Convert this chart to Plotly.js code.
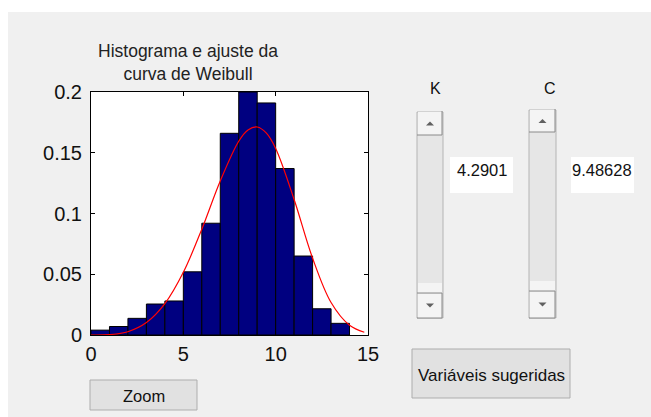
<!DOCTYPE html>
<html>
<head>
<meta charset="utf-8">
<script src="https://cdn.plot.ly/plotly-3.0.1.min.js"></script>
<style>
  html, body { margin: 0; padding: 0; background: #ffffff; width: 651px; height: 417px; overflow: hidden; }
  #chart { position: absolute; left: 8px; top: 12px; width: 643px; height: 405px; }
</style>
</head>
<body>
<div id="chart"></div>
<script>
// ---- data ----
var binCenters = [0.5, 1.5, 2.5, 3.5, 4.5, 5.5, 6.5, 7.5, 8.5, 9.5, 10.5, 11.5, 12.5, 13.5];
var binFreq    = [0.004, 0.007, 0.0137, 0.0255, 0.028, 0.052, 0.092, 0.166, 0.200, 0.191, 0.137, 0.065, 0.0216, 0.0096];
var curveX     = [0, 1, 2, 3, 4, 5, 6, 7, 8, 8.5, 9, 9.5, 10, 11, 12, 13, 14, 14.8];
var curveY     = [0, 0.0003, 0.0027, 0.0102, 0.0258, 0.0516, 0.0871, 0.1268, 0.1595, 0.1688, 0.1712, 0.1661, 0.1535, 0.1115, 0.0632, 0.0267, 0.0080, 0.0023];
var xTickVals  = [0, 5, 10, 15];
var xTickText  = ["0", "5", "10", "15"];
var yTickVals  = [0, 0.05, 0.1, 0.15, 0.2];
var yTickText  = ["0", "0.05", "0.1", "0.15", "0.2"];
var titleText  = "Histograma e ajuste da<br>curva de Weibull";
var kLabel = "K", cLabel = "C";
var kValue = "4.2901", cValue = "9.48628";
var zoomLabel = "Zoom", suggestLabel = "Variáveis sugeridas";

// ---- page pixel -> paper coordinate helpers (plot area: x 91..368, y 92..335 on the page) ----
var PL = 91, PR = 368, PT = 92, PB = 335;
function X(px) { return (px - PL) / (PR - PL); }
function Y(py) { return (PB - py) / (PB - PT); }

var shapes = [];
var annotations = [];
function rect(x0, y0, x1, y1, fill, line) {
  shapes.push({type: 'rect', xref: 'paper', yref: 'paper', x0: X(x0), x1: X(x1), y0: Y(y1), y1: Y(y0),
    fillcolor: fill, line: line ? {color: line, width: 1} : {width: 0}, layer: 'above'});
}
function seg(pts, color) {
  var d = pts.map(function (p, i) { return (i ? 'L' : 'M') + X(p[0]) + ',' + Y(p[1]); }).join(' ');
  shapes.push({type: 'path', xref: 'paper', yref: 'paper', path: d, line: {color: color, width: 1}, layer: 'above'});
}
function tri(cx, cy, up) {
  var w = 4, h = 4;
  var pts = up ? [[cx - w, cy + h / 2], [cx + w, cy + h / 2], [cx, cy - h / 2]]
               : [[cx - w, cy - h / 2], [cx + w, cy - h / 2], [cx, cy + h / 2]];
  var d = pts.map(function (p, i) { return (i ? 'L' : 'M') + X(p[0]) + ',' + Y(p[1]); }).join(' ') + ' Z';
  shapes.push({type: 'path', xref: 'paper', yref: 'paper', path: d, fillcolor: '#606060', line: {width: 0}, layer: 'above'});
}
function scrollbar(x0, x1, top, upBot, thumbTop, thumbBot, bottom) {
  rect(x0, top, x1, bottom, '#e6e6e6', '#b4b4b4');
  rect(x0 + 1, top, x1 - 1, upBot, '#f4f4f4');
  seg([[x1 - 1, top - 1], [x1 - 1, upBot], [x0, upBot]], '#8a8a8a');
  rect(x0 + 1, thumbTop, x1 - 1, thumbBot, '#f4f4f4');
  seg([[x0, thumbBot], [x1 - 1, thumbBot]], '#8a8a8a');
  rect(x0 + 1, thumbBot + 1, x1 - 1, bottom, '#f4f4f4');
  seg([[x1 - 1, thumbBot], [x1 - 1, bottom], [x0, bottom]], '#8a8a8a');
  var cx = (x0 + x1) / 2;
  tri(cx, (top + upBot) / 2, true);
  tri(cx, (thumbBot + bottom) / 2, false);
}
function text(t, px, py, size, anchor) {
  annotations.push({text: t, xref: 'paper', yref: 'paper', x: X(px), y: Y(py), showarrow: false,
    xanchor: anchor || 'center', yanchor: 'middle', font: {family: 'Arial, Liberation Sans, sans-serif', size: size, color: '#111111'}});
}

// scrollbars
scrollbar(417, 443, 112, 135, 283, 293, 318);
scrollbar(529, 556, 110, 132, 281, 291, 318);
// labels
text(kLabel, 435, 89, 16);
text(cLabel, 549.5, 89, 16);
// edit boxes
rect(450, 157, 513, 193, '#ffffff');
rect(571, 157, 634, 193, '#ffffff');
text(kValue, 509, 170, 16.5, 'right');
text(cValue, 634, 170, 16.5, 'right');
// buttons
rect(90, 380, 197, 410, '#e1e1e1', '#adadad');
text(zoomLabel, 143.5, 396, 16.5);
rect(412, 349, 570, 398, '#e1e1e1', '#adadad');
text(suggestLabel, 491, 375, 17);

var traces = [
  {type: 'bar', x: binCenters, y: binFreq, width: 1,
   marker: {color: '#000080', line: {color: '#000000', width: 1}}, hoverinfo: 'x+y'},
  {type: 'scatter', mode: 'lines', x: curveX, y: curveY,
   line: {color: '#ff0000', width: 1.2, shape: 'spline'}}
];

var axisCommon = {
  showline: true, mirror: 'ticks', linecolor: '#000000', linewidth: 1,
  ticks: 'inside', ticklen: 4, tickcolor: '#000000', tickwidth: 1,
  showgrid: false, zeroline: false,
  tickfont: {family: 'Arial, Liberation Sans, sans-serif', size: 20, color: '#111111'}
};

var layout = Object.assign({
  width: 643, height: 405,
  paper_bgcolor: '#f0f0f0', plot_bgcolor: '#ffffff',
  margin: {l: PL - 8, r: 643 - (PR - 8), t: PT - 12, b: 405 - (PB - 12), pad: 0},
  showlegend: false,
  bargap: 0,
  title: {text: titleText, xref: 'container', x: (188 - 8) / 643, xanchor: 'center',
          yref: 'container', y: 1 - (57 - 12) / 405, yanchor: 'top',
          font: {family: 'Arial, Liberation Sans, sans-serif', size: 17.5, color: '#222222'}},
  xaxis: Object.assign({}, axisCommon, {range: [0, 15], tickvals: xTickVals, ticktext: xTickText, ticklabelstandoff: 1}),
  yaxis: Object.assign({}, axisCommon, {range: [0, 0.2], tickvals: yTickVals, ticktext: yTickText, ticklabelstandoff: 4}),
  shapes: shapes,
  annotations: annotations
});

Plotly.newPlot('chart', traces, layout, {displayModeBar: false, staticPlot: true});
</script>
</body>
</html>
